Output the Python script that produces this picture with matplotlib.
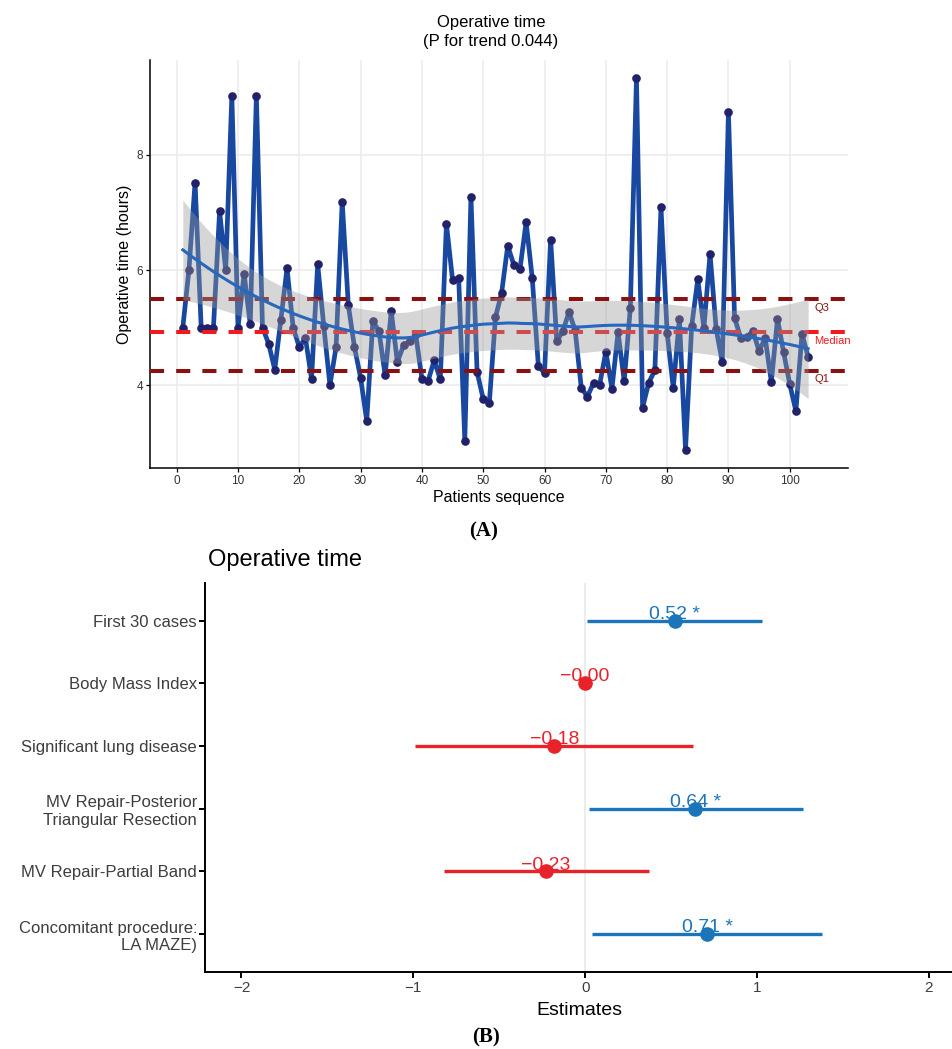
import numpy as np
import matplotlib
matplotlib.use('Agg')
import matplotlib.pyplot as plt

plt.rcParams['font.family'] = ['Liberation Sans', 'DejaVu Sans']

# operative time per patient, in hours, in order of surgery
op_hours = [5.00, 6.00, 7.52, 5.00, 5.00, 5.00, 7.02, 6.00, 9.03, 5.00,
            5.93, 5.06, 9.03, 5.00, 4.72, 4.27, 5.14, 6.03, 5.00, 4.66,
            4.82, 4.11, 6.10, 5.02, 4.00, 4.66, 7.19, 5.39, 4.66, 4.13,
            3.38, 5.11, 4.94, 4.17, 5.28, 4.40, 4.69, 4.76, 4.88, 4.11,
            4.07, 4.43, 4.10, 6.80, 5.83, 5.86, 3.03, 7.27, 4.23, 3.76,
            3.69, 5.18, 5.60, 6.42, 6.09, 6.02, 6.83, 5.86, 4.33, 4.21,
            6.53, 4.76, 4.94, 5.27, 4.95, 3.95, 3.80, 4.04, 4.01, 4.58,
            3.94, 4.92, 4.07, 5.34, 9.33, 3.61, 4.04, 4.26, 7.09, 4.91,
            3.95, 5.15, 2.88, 5.02, 5.84, 4.99, 6.28, 4.97, 4.40, 8.75,
            5.17, 4.82, 4.84, 4.94, 4.59, 4.82, 4.05, 5.15, 4.57, 4.02,
            3.55, 4.89, 4.49]
patient_seq = np.arange(1, len(op_hours) + 1)

q1_hours = 4.25
median_hours = 4.92
q3_hours = 5.49

# regression estimates for operative time
terms = ["First 30 cases", "Body Mass Index", "Significant lung disease",
         "MV Repair-Posterior\nTriangular Resection", "MV Repair-Partial Band",
         "Concomitant procedure:\nLA MAZE)"]
estimates = [0.52, -0.004, -0.18, 0.64, -0.23, 0.71]
ci_low = [0.01, -0.02, -0.99, 0.02, -0.82, 0.04]
ci_high = [1.03, 0.01, 0.63, 1.27, 0.37, 1.38]
signif = ["*", "", "", "*", "", "*"]


def loess(x, y, x_eval, span=0.75):
    # local quadratic fit with tricube weights, plus standard errors
    n = len(x)
    q = int(np.floor(span * n))

    def row(x0):
        d = np.abs(x - x0)
        h = np.sort(d)[q - 1]
        u = np.clip(d / h, 0, 1)
        w = (1 - u ** 3) ** 3
        X = np.vander(x - x0, 3, increasing=True)
        XtW = X.T * w
        return np.linalg.solve(XtW @ X, XtW)[0]

    L = np.array([row(x0) for x0 in x])
    Le = np.array([row(x0) for x0 in x_eval])
    resid = y - L @ y
    M = np.eye(n) - L
    delta1 = np.trace(M.T @ M)
    sigma = np.sqrt(resid @ resid / delta1)
    fit = Le @ y
    se = sigma * np.sqrt((Le ** 2).sum(axis=1))
    return fit, se


x = patient_seq.astype(float)
y = np.array(op_hours)
xs = np.linspace(x.min(), x.max(), 80)
fit, se = loess(x, y, xs)

fig = plt.figure(figsize=(9.53, 10.49), dpi=100)

# ---- (A) operative time over the sequence
ax1 = fig.add_axes([0.1574, 0.5539, 0.7324, 0.3889])
ax1.plot(x, y, color='#1848a0', lw=3.4, zorder=2, solid_joinstyle='round')
ax1.plot(x, y, 'o', color='#22226a', ms=5.2, zorder=3)
ax1.axhline(q3_hours, color='#8b1010', lw=2.9, dashes=(3.5, 3.0), zorder=4)
ax1.axhline(median_hours, color='#f01a20', lw=2.9, dashes=(3.5, 3.0), zorder=4)
ax1.axhline(q1_hours, color='#8b1010', lw=2.9, dashes=(3.5, 3.0), zorder=4)
ax1.fill_between(xs, fit - 1.98 * se, fit + 1.98 * se, color='#999999',
                 alpha=0.4, lw=0, zorder=5)
ax1.plot(xs, fit, color='#2767bd', lw=2.2, zorder=6)
ax1.text(104, q3_hours - 0.06, 'Q3', color='#8b1010', fontsize=8, va='top')
ax1.text(104, median_hours - 0.06, 'Median', color='#f01a20', fontsize=8, va='top')
ax1.text(104, q1_hours - 0.06, 'Q1', color='#8b1010', fontsize=8, va='top')

ax1.set_xlim(-4.35, 109.5)
ax1.set_ylim(2.56, 9.65)
ax1.set_xticks(np.arange(0, 101, 10))
ax1.set_yticks([4, 6, 8])
ax1.grid(color='#ebebeb', lw=1.1)
ax1.set_axisbelow(True)
for s in ['top', 'right']:
    ax1.spines[s].set_visible(False)
for s in ['left', 'bottom']:
    ax1.spines[s].set_linewidth(1.1)
ax1.tick_params(labelsize=8.5, labelcolor='#333333', length=3, width=0.9, pad=2)
ax1.set_xlabel('Patients sequence', fontsize=11.5, labelpad=2)
ax1.set_ylabel('Operative time (hours)', fontsize=11.5, labelpad=3)
fig.text(491 / 953, 1 - 32 / 1049, 'Operative time\n(P for trend 0.044)',
         ha='center', va='center', fontsize=12, linespacing=1.4)
fig.text(484 / 953, 1 - 531 / 1049, '(A)', ha='center', va='center',
         fontsize=15, fontweight='bold', family='Liberation Serif')

# ---- (B) forest plot of estimates
ax2 = fig.add_axes([0.2155, 0.0737, 0.7845, 0.3705])
rows = np.arange(len(terms))[::-1] + 1
ax2.axvline(0, color='#ebebeb', lw=1.3, zorder=0)
for r, e, lo, hi, sg in zip(rows, estimates, ci_low, ci_high, signif):
    col = '#1b75bb' if e > 0 else '#e8222a'
    ax2.hlines(r, lo, hi, color=col, lw=2.4, zorder=2)
    ax2.plot(e, r, 'o', color=col, ms=9.5, zorder=3)
    lab = f"{e:.2f}".replace('-', '\u2212')
    if sg:
        lab += ' ' + sg
    ax2.text(e, r + 0.03, lab, color=col, fontsize=14, ha='center', va='baseline', zorder=4)

ax2.set_xlim(-2.21, 2.14)
ax2.set_ylim(0.4, 6.6)
ax2.set_xticks([-2, -1, 0, 1, 2])
ax2.set_xticklabels(['\u22122', '\u22121', '0', '1', '2'])
ax2.set_yticks(rows)
ax2.set_yticklabels(terms, multialignment='right')
for s in ['top', 'right']:
    ax2.spines[s].set_visible(False)
for s in ['left', 'bottom']:
    ax2.spines[s].set_linewidth(1.4)
ax2.tick_params(axis='y', labelsize=12, labelcolor='#3d3d3d', length=4, width=1.4, pad=2)
ax2.tick_params(axis='x', labelsize=11, labelcolor='#3d3d3d', length=4, width=1.4, pad=3)
ax2.set_xlabel('Estimates', fontsize=14, labelpad=5)
fig.text(208 / 953, 1 - 560 / 1049, 'Operative time', ha='left', va='center', fontsize=17)
fig.text(486 / 953, 1 - 1037 / 1049, '(B)', ha='center', va='center',
         fontsize=15, fontweight='bold', family='Liberation Serif')

fig.savefig('out.png', dpi=100)
